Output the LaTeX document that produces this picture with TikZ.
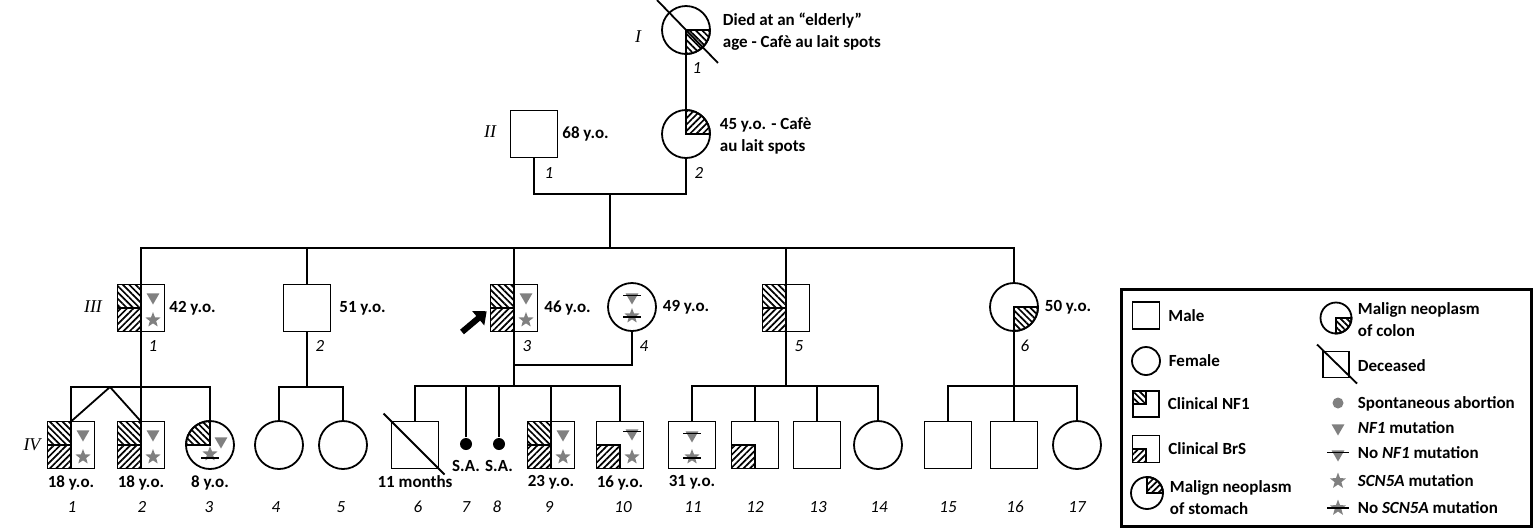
\documentclass[tikz,border=0pt]{standalone}
\usepackage{fontspec}
\setmainfont{Carlito}
\newfontfamily\genfont{Liberation Serif}
\usetikzlibrary{shapes.geometric,patterns.meta,positioning,arrows.meta}

\definecolor{markgray}{gray}{0.5}

\begin{document}
\begin{tikzpicture}[x=1pt,y=-1pt,line width=1.8pt,node distance=6pt,
    male/.style={draw,rectangle,minimum size=47pt,inner sep=0pt,outer sep=0pt},
    female/.style={draw,circle,minimum size=48pt,inner sep=0pt,outer sep=0pt},
    nfhatch/.style={pattern={Lines[angle=-45,distance=4.5pt,line width=1.7pt]}},
    brhatch/.style={pattern={Lines[angle=45,distance=4.5pt,line width=1.7pt]}},
    nfmut/.style={regular polygon,regular polygon sides=3,shape border rotate=180,
        fill=markgray,inner sep=0pt,minimum size=15pt},
    scnmut/.style={star,star points=5,star point ratio=2.4,fill=markgray,
        inner sep=0pt,minimum size=16pt},
    strike/.style={line width=1.6pt},
    abort/.style={circle,fill,inner sep=0pt,minimum size=12pt},
    txt/.style={font=\fontsize{17}{22}\selectfont\bfseries,inner sep=0pt,align=left},
    idx/.style={font=\fontsize{17}{20}\selectfont\itshape,inner sep=0pt},
    gen/.style={font=\genfont\fontsize{18}{20}\selectfont\itshape,inner sep=0pt},
    proband/.style={line width=6pt,-{Triangle[length=11pt,width=18pt]},shorten >=5pt}]

\useasboundingbox (0,0) rectangle (1535,531);

% generation I
\node[gen] (gI) at (638,37) {I};
\node[female] (I1) at (686,30) {};
\draw[nfhatch] (I1.center) -- (I1.east) arc[start angle=0,end angle=-90,radius=24pt] -- cycle;
\draw ([shift={(-12,-13)}]I1.north west) -- ([shift={(15,16)}]I1.south east);
\node[idx] (nI1) at (697,68) {1};
\node[txt,anchor=west] (tI1) at (722,32) {Died at an “elderly”\\age - Cafè au lait spots};

% generation II
\node[gen] (gII) at (490,132) {II};
\node[male] (II1) at (534,134) {};
\node[female] (II2) at (686,134) {};
\draw[brhatch] (II2.center) -- (II2.east) arc[start angle=0,end angle=90,radius=24pt] -- cycle;
\node[txt] (aII1) [right=4pt of II1] {68 y.o.};
\node[txt,anchor=west] (tII2) at (719,136) {45 y.o. - Cafè\\au lait spots};
\node[idx] (nII1) at (549,173) {1};
\node[idx] (nII2) at (699,173) {2};

\draw (I1) -- (II2);
\coordinate (mII) at (610,194);
\coordinate (sIII) at (610,248);
\draw (II1) |- (mII) -| (II2);
\draw (mII) -- (sIII);

% generation III
\node[gen] (gIII) at (93,307) {III};
\node[male] (III1) at (141,308) {};
\node[male] (III2) at (307,308) {};
\node[male] (III3) at (514,308) {};
\node[female] (III4) at (632,307) {};
\node[male] (III5) at (786,308) {};
\node[female] (III6) at (1014,307) {};

\draw (III1) |- (sIII) -| (III6);
\draw (III2) -- (III2 |- sIII);
\draw (III3) -- (III3 |- sIII);
\draw (III5) -- (III5 |- sIII);

\draw[nfhatch] (III1.center) rectangle (III1.north west);
\draw[brhatch] (III1.center) rectangle (III1.south west);
\node[nfmut] (III1nf) at ([shift={(12,-11)}]III1.center) {};
\node[scnmut] (III1scn) at ([shift={(12,12)}]III1.center) {};

\draw[nfhatch] (III3.center) rectangle (III3.north west);
\draw[brhatch] (III3.center) rectangle (III3.south west);
\node[nfmut] (III3nf) at ([shift={(12,-11)}]III3.center) {};
\node[scnmut] (III3scn) at ([shift={(12,12)}]III3.center) {};
\coordinate (pa) at (462,332);
\draw[proband] (pa) -- (III3.west);

\node[nfmut] (III4nf) at ([shift={(0,-10)}]III4.center) {};
\draw[strike] ([shift={(-9,-1.5)}]III4nf.center) -- ([shift={(9,-1.5)}]III4nf.center);
\node[scnmut] (III4scn) at ([shift={(0,9)}]III4.center) {};
\draw[strike] ([shift={(-9,1)}]III4scn.center) -- ([shift={(9,1)}]III4scn.center);

\draw[nfhatch] (III5.center) rectangle (III5.north west);
\draw[brhatch] (III5.center) rectangle (III5.south west);

\draw[nfhatch] (III6.center) -- (III6.east) arc[start angle=0,end angle=-90,radius=24pt] -- cycle;

\node[txt] (aIII1) [right=4pt of III1] {42 y.o.};
\node[txt] (aIII2) [right=8pt of III2] {51 y.o.};
\node[txt] (aIII3) [right=of III3] {46 y.o.};
\node[txt] (aIII4) [right=of III4] {49 y.o.};
\node[txt] (aIII6) [right=of III6] {50 y.o.};

\node[idx] (nIII1) at (153,346) {1};
\node[idx] (nIII2) at (320,346) {2};
\node[idx] (nIII3) at (527,346) {3};
\node[idx] (nIII4) at (644,346) {4};
\node[idx] (nIII5) at (799,346) {5};
\node[idx] (nIII6) at (1025,346) {6};

% generation IV
\node[gen] (gIV) at (32,445) {IV};
\node[male] (IV1) at (71,445) {};
\node[male] (IV2) at (141,445) {};
\node[female] (IV3) at (210,445) {};
\node[female] (IV4) at (279,445) {};
\node[female] (IV5) at (343,445) {};
\node[male] (IV6) at (415,445) {};
\node[abort] (IV7) at (466,444) {};
\node[abort] (IV8) at (499,444) {};
\node[male] (IV9) at (551,445) {};
\node[male] (IV10) at (620,445) {};
\node[male] (IV11) at (692,445) {};
\node[male] (IV12) at (755,445) {};
\node[male] (IV13) at (817,445) {};
\node[female] (IV14) at (878,445) {};
\node[male] (IV15) at (948,445) {};
\node[male] (IV16) at (1014,445) {};
\node[female] (IV17) at (1077,445) {};

% sibships
\coordinate (sIV1) at (141,387);
\coordinate (tw) at (110,387);
\draw (III1) -- (sIV1);
\draw (IV1) -- (IV1 |- sIV1) -| (IV3);
\draw (IV2) -- (sIV1);
\draw (tw) -- (IV1.north);
\draw (tw) -- (IV2.north);

\coordinate (sIV2) at (307,387);
\draw (III2) -- (sIV2);
\draw (IV4) |- (sIV2) -| (IV5);

\coordinate (mIII) at (514,365);
\coordinate (sIV3) at (514,386);
\draw (III4) |- (mIII);
\draw (III3) -- (sIV3);
\draw (IV6) |- (sIV3) -| (IV10);
\draw (IV7) -- (IV7 |- sIV3);
\draw (IV8) -- (IV8 |- sIV3);
\draw (IV9) -- (IV9 |- sIV3);

\coordinate (sIV5) at (786,386);
\draw (III5) -- (sIV5);
\draw (IV11) |- (sIV5) -| (IV14);
\draw (IV12) -- (IV12 |- sIV5);
\draw (IV13) -- (IV13 |- sIV5);

\coordinate (sIV6) at (1014,386);
\draw (III6) -- (sIV6);
\draw (IV15) |- (sIV6) -| (IV17);
\draw (IV16) -- (sIV6);

% marks in generation IV
\draw[nfhatch] (IV1.center) rectangle (IV1.north west);
\draw[brhatch] (IV1.center) rectangle (IV1.south west);
\node[nfmut] (IV1nf) at ([shift={(12,-11)}]IV1.center) {};
\node[scnmut] (IV1scn) at ([shift={(12,12)}]IV1.center) {};

\draw[nfhatch] (IV2.center) rectangle (IV2.north west);
\draw[brhatch] (IV2.center) rectangle (IV2.south west);
\node[nfmut] (IV2nf) at ([shift={(12,-11)}]IV2.center) {};
\node[scnmut] (IV2scn) at ([shift={(12,12)}]IV2.center) {};

\draw[nfhatch] (IV3.center) -- (IV3.north) arc[start angle=90,end angle=180,radius=24pt] -- cycle;
\node[nfmut] (IV3nf) at ([shift={(11,-4)}]IV3.center) {};
\node[scnmut] (IV3scn) at ([shift={(0,9)}]IV3.center) {};
\draw[strike] ([shift={(-9,4)}]IV3scn.center) -- ([shift={(9,4)}]IV3scn.center);

\draw ([shift={(-8,-8)}]IV6.north west) -- ([shift={(6,6)}]IV6.south east);

\draw[nfhatch] (IV9.center) rectangle (IV9.north west);
\draw[brhatch] (IV9.center) rectangle (IV9.south west);
\node[nfmut] (IV9nf) at ([shift={(12,-11)}]IV9.center) {};
\node[scnmut] (IV9scn) at ([shift={(12,12)}]IV9.center) {};

\draw[brhatch] (IV10.center) rectangle (IV10.south west);
\node[nfmut] (IV10nf) at ([shift={(12,-12)}]IV10.center) {};
\draw[strike] ([shift={(-9,-1.5)}]IV10nf.center) -- ([shift={(9,-1.5)}]IV10nf.center);
\node[scnmut] (IV10scn) at ([shift={(12,12)}]IV10.center) {};

\node[nfmut] (IV11nf) at ([shift={(0,-10)}]IV11.center) {};
\draw[strike] ([shift={(-9,-1.5)}]IV11nf.center) -- ([shift={(9,-1.5)}]IV11nf.center);
\node[scnmut] (IV11scn) at ([shift={(0,12)}]IV11.center) {};
\draw[strike] ([shift={(-9,1)}]IV11scn.center) -- ([shift={(9,1)}]IV11scn.center);

\draw[brhatch] (IV12.center) rectangle (IV12.south west);

% ages and numbers of generation IV
\node[txt] (aIV1) [below=of IV1] {18 y.o.};
\node[txt] (aIV2) [below=of IV2] {18 y.o.};
\node[txt] (aIV3) [below=of IV3] {8 y.o.};
\node[txt] (aIV6) [below=of IV6] {11 months};
\node[txt] (aIV7) [below=9pt of IV7] {S.A.};
\node[txt] (aIV8) [below=9pt of IV8] {S.A.};
\node[txt] (aIV9) [below=of IV9] {23 y.o.};
\node[txt] (aIV10) [below=of IV10] {16 y.o.};
\node[txt] (aIV11) [below=of IV11] {31 y.o.};

\node[idx] (nIV1) at (72,507) {1};
\node[idx] (nIV2) at (142,507) {2};
\node[idx] (nIV3) at (209,507) {3};
\node[idx] (nIV4) at (276,507) {4};
\node[idx] (nIV5) at (341,507) {5};
\node[idx] (nIV6) at (418,507) {6};
\node[idx] (nIV7) at (466,507) {7};
\node[idx] (nIV8) at (497,507) {8};
\node[idx] (nIV9) at (549,507) {9};
\node[idx] (nIV10) at (623,507) {10};
\node[idx] (nIV11) at (693,507) {11};
\node[idx] (nIV12) at (755,507) {12};
\node[idx] (nIV13) at (818,507) {13};
\node[idx] (nIV14) at (879,507) {14};
\node[idx] (nIV15) at (948,507) {15};
\node[idx] (nIV16) at (1015,507) {16};
\node[idx] (nIV17) at (1077,507) {17};

% legend
\node[draw,line width=3.5pt,minimum width=410pt,minimum height=237pt,
    inner sep=0pt,outer sep=0pt] (legend) at (1326.5,408) {};

\node[male,minimum size=27pt] (Lmale) at (1146,315.5) {};
\node[txt] (tmale) [right=8pt of Lmale] {Male};
\node[female,minimum size=28pt] (Lfemale) at (1146,361) {};
\node[txt] (tfemale) [right=8pt of Lfemale] {Female};
\node[male,minimum size=26pt] (Lnf) at (1146,404) {};
\draw[nfhatch] (Lnf.center) rectangle (Lnf.north west);
\node[txt] (tnf) [right=8pt of Lnf] {Clinical NF1};
\node[male,minimum size=27pt] (Lbrs) at (1146,449) {};
\draw[brhatch] (Lbrs.center) rectangle (Lbrs.south west);
\node[txt] (tbrs) [right=8pt of Lbrs] {Clinical BrS};
\node[female,minimum size=32pt] (Lstom) at (1147,493) {};
\draw[brhatch] (Lstom.center) -- (Lstom.east) arc[start angle=0,end angle=90,radius=16pt] -- cycle;
\node[txt,anchor=west] (tstom) at (1169,497.5) {Malign neoplasm\\of stomach};

\node[female,minimum size=31pt] (Lcolon) at (1336,318) {};
\draw[nfhatch] (Lcolon.center) -- (Lcolon.east) arc[start angle=0,end angle=-90,radius=15.5pt] -- cycle;
\node[txt,anchor=west] (tcolon) at (1357,319.5) {Malign neoplasm\\of colon};
\node[male,minimum size=26pt] (Ldec) at (1336,364.5) {};
\draw ([shift={(-6,-7)}]Ldec.north west) -- ([shift={(8,6)}]Ldec.south east);
\node[txt,anchor=west] (tdec) at (1357,366) {Deceased};

\node[abort,fill=markgray,minimum size=11pt] (Lsa) at (1338,403) {};
\node[txt,anchor=west] (tsa) at (1357,404) {Spontaneous abortion};
\node[nfmut,minimum size=15pt] (Lnf1) at (1338,428) {};
\node[txt,anchor=west] (tnf1) at (1357,428) {\textit{NF1} mutation};
\node[nfmut,minimum size=15pt] (Lnonf1) at (1338,454) {};
\draw[strike] ([shift={(-11,-1.5)}]Lnonf1.center) -- ([shift={(11,-1.5)}]Lnonf1.center);
\node[txt,anchor=west] (tnonf1) at (1357,453) {No \textit{NF1} mutation};
\node[scnmut,minimum size=17pt] (Lscn) at (1338,481) {};
\node[txt,anchor=west] (tscn) at (1357,481) {\textit{SCN5A} mutation};
\node[scnmut,minimum size=17pt] (Lnoscn) at (1338,508) {};
\draw[strike] ([shift={(-11,0)}]Lnoscn.center) -- ([shift={(11,0)}]Lnoscn.center);
\node[txt,anchor=west] (tnoscn) at (1357,508) {No \textit{SCN5A} mutation};

\end{tikzpicture}
\end{document}
